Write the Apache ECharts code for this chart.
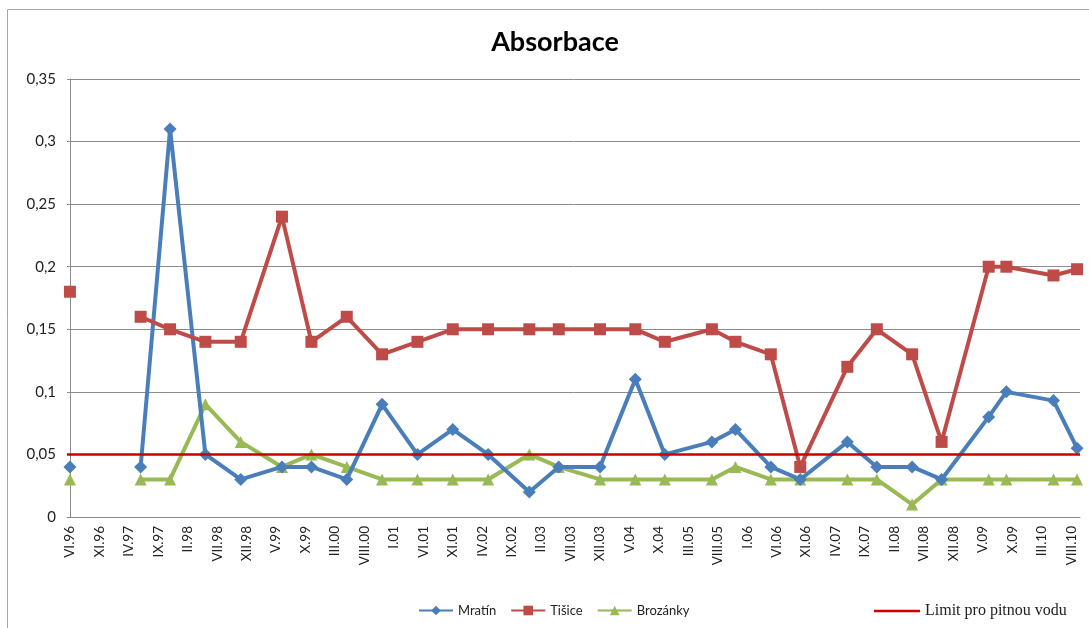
<!DOCTYPE html>
<html>
<head>
<meta charset="utf-8">
<script src="https://cdn.jsdelivr.net/npm/echarts@6/dist/echarts.min.js"></script>
<style>
  html, body { margin: 0; padding: 0; background: #fff; }
  #chart { width: 1089px; height: 628px; }
</style>
</head>
<body>
<div id="chart"></div>
<script>
// Sampling dates (Roman month . two-digit year); XI.96 has no measurement
const sampleDates = ['VI.96', 'XI.96', 'VI.97', 'XI.97', 'V.98', 'XI.98', 'VI.99', 'XI.99', 'V.00', 'XI.00',
  'V.01', 'XI.01', 'V.02', 'XII.02', 'V.03', 'XII.03', 'VI.04', 'XI.04', 'VII.05', 'XI.05',
  'V.06', 'X.06', 'VI.07', 'XI.07', 'V.08', 'X.08', 'VI.09', 'IX.09', 'V.10', 'IX.10'];

const mratin = [0.04, null, 0.04, 0.31, 0.05, 0.03, 0.04, 0.04, 0.03, 0.09,
  0.05, 0.07, 0.05, 0.02, 0.04, 0.04, 0.11, 0.05, 0.06, 0.07,
  0.04, 0.03, 0.06, 0.04, 0.04, 0.03, 0.08, 0.10, 0.093, 0.055];

const tisice = [0.18, null, 0.16, 0.15, 0.14, 0.14, 0.24, 0.14, 0.16, 0.13,
  0.14, 0.15, 0.15, 0.15, 0.15, 0.15, 0.15, 0.14, 0.15, 0.14,
  0.13, 0.04, 0.12, 0.15, 0.13, 0.06, 0.20, 0.20, 0.193, 0.198];

const brozanky = [0.03, null, 0.03, 0.03, 0.09, 0.06, 0.04, 0.05, 0.04, 0.03,
  0.03, 0.03, 0.03, 0.05, 0.04, 0.03, 0.03, 0.03, 0.03, 0.04,
  0.03, 0.03, 0.03, 0.03, 0.01, 0.03, 0.03, 0.03, 0.03, 0.03];

// Drinking-water limit
const limitValue = 0.05;

// Axis labels every five months
const tickLabels = ['VI.96', 'XI.96', 'IV.97', 'IX.97', 'II.98', 'VII.98', 'XII.98', 'V.99', 'X.99', 'III.00',
  'VIII.00', 'I.01', 'VI.01', 'XI.01', 'IV.02', 'IX.02', 'II.03', 'VII.03', 'XII.03', 'V.04',
  'X.04', 'III.05', 'VIII.05', 'I.06', 'VI.06', 'XI.06', 'IV.07', 'IX.07', 'II.08', 'VII.08',
  'XII.08', 'V.09', 'X.09', 'III.10', 'VIII.10'];

const ROMAN = ['I', 'II', 'III', 'IV', 'V', 'VI', 'VII', 'VIII', 'IX', 'X', 'XI', 'XII'];
// months elapsed since June 1996
function monthIndex(label) {
  const [m, y] = label.split('.');
  return (1900 + (+y < 50 ? 100 : 0) + +y - 1996) * 12 + ROMAN.indexOf(m) - 5;
}

const xs = sampleDates.map(monthIndex);
const pairs = arr => arr.map((v, i) => [xs[i], v]);
const tickPos = tickLabels.map(monthIndex);
const labelAt = {};
tickPos.forEach((p, i) => { labelAt[p] = tickLabels[i]; });

const xMin = xs[0] - 0.5;
const xMax = xs[xs.length - 1] + 0.5;

const FONT = 'Lato, "Open Sans", sans-serif';

const chart = echarts.init(document.getElementById('chart'), null, { renderer: 'canvas' });
chart.setOption({
  animation: false,
  backgroundColor: '#fff',
  title: {
    text: 'Absorbace',
    left: 550,
    top: 24,
    textAlign: 'center',
    textStyle: { fontFamily: FONT, fontSize: 27, fontWeight: 'bold', color: '#000' }
  },
  graphic: [{
    type: 'rect',
    shape: { x: 7.5, y: 9.5, width: 1100, height: 640 },
    style: { fill: 'none', stroke: '#a6a6a6', lineWidth: 1 },
    silent: true,
    z: -1
  }],
  legend: [{
    data: ['Mratín', 'Tišice', 'Brozánky'],
    left: 413,
    top: 599,
    itemWidth: 34,
    itemHeight: 12,
    itemGap: 14,
    textStyle: { fontFamily: FONT, fontSize: 13, color: '#222' }
  }, {
    data: [{ name: 'Limit pro pitnou vodu', icon: 'rect' }],
    left: 869,
    top: 598,
    itemWidth: 46,
    itemHeight: 2.5,
    itemGap: 10,
    textStyle: { fontFamily: '"Liberation Serif", "DejaVu Serif", serif', fontSize: 16, color: '#222' }
  }],
  grid: { left: 67, right: 9, top: 79, bottom: 111, containLabel: false },
  xAxis: {
    type: 'value',
    min: xMin,
    max: xMax,
    axisLine: { show: true, lineStyle: { color: '#8c8c8c', width: 1 } },
    axisTick: { show: false },
    splitLine: { show: false },
    axisLabel: {
      customValues: tickPos,
      rotate: 90,
      margin: 9,
      fontFamily: FONT,
      fontSize: 13.5,
      color: '#222',
      formatter: v => labelAt[Math.round(v)] || ''
    }
  },
  yAxis: {
    type: 'value',
    min: 0,
    max: 0.35,
    interval: 0.05,
    axisLine: { show: true, lineStyle: { color: '#8c8c8c', width: 1 } },
    axisTick: { show: false },
    splitLine: { show: true, lineStyle: { color: '#8c8c8c', width: 1 } },
    axisLabel: {
      margin: 11,
      fontFamily: FONT,
      fontSize: 15,
      color: '#222',
      formatter: v => String(+v.toFixed(2)).replace('.', ',')
    }
  },
  series: [{
    name: 'Mratín',
    type: 'line',
    data: pairs(mratin),
    connectNulls: false,
    symbol: 'diamond',
    symbolSize: 13,
    lineStyle: { width: 4, color: '#4a7ebb' },
    itemStyle: { color: '#4a7ebb' },
    z: 3
  }, {
    name: 'Tišice',
    type: 'line',
    data: pairs(tisice),
    connectNulls: false,
    symbol: 'rect',
    symbolSize: 12,
    lineStyle: { width: 4, color: '#be4b48' },
    itemStyle: { color: '#be4b48' },
    z: 4
  }, {
    name: 'Brozánky',
    type: 'line',
    data: pairs(brozanky),
    connectNulls: false,
    symbol: 'triangle',
    symbolSize: 12,
    lineStyle: { width: 4, color: '#98b954' },
    itemStyle: { color: '#98b954' },
    z: 2
  }, {
    name: 'Limit pro pitnou vodu',
    type: 'line',
    data: [[xMin, limitValue], [xMax, limitValue]],
    symbol: 'none',
    lineStyle: { width: 2.5, color: '#cc0000' },
    itemStyle: { color: '#cc0000' },
    z: 5
  }]
});
</script>
</body>
</html>
